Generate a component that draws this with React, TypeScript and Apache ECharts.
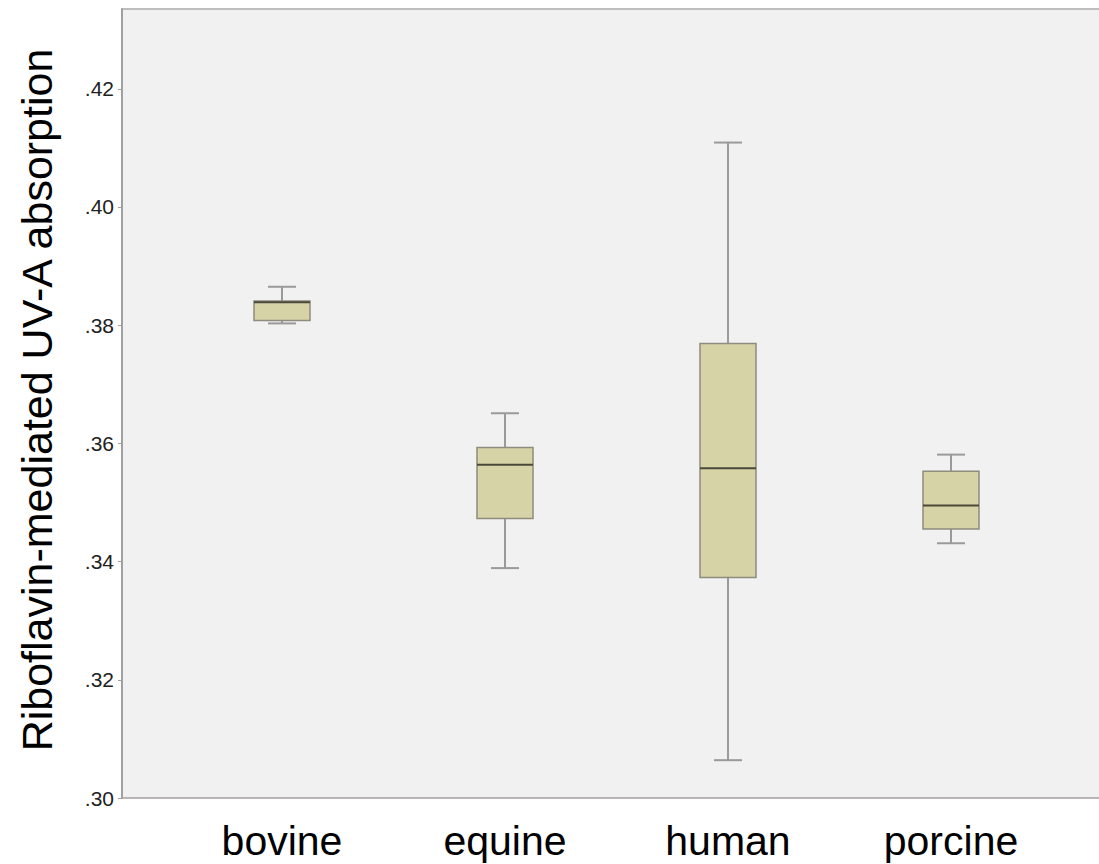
import React, { useEffect, useRef } from "react";
import * as echarts from "echarts";

const categories = ["bovine", "equine", "human", "porcine"];
const mins = [0.3803, 0.3389, 0.3064, 0.3431];
const q1s = [0.3808, 0.3473, 0.3373, 0.3455];
const medians = [0.3839, 0.3564, 0.3558, 0.3495];
const q3s = [0.3841, 0.3593, 0.3769, 0.3553];
const maxs = [0.3865, 0.3651, 0.4109, 0.3581];

const yTitle = "Riboflavin-mediated UV-A absorption";
const yMin = 0.3;
const yMax = 0.4335;
const yStep = 0.02;

export default function App() {
  const ref = useRef<HTMLDivElement>(null);
  useEffect(() => {
    if (!ref.current) return;
    const chart = echarts.init(ref.current, undefined, { renderer: "svg" });
    const data = categories.map((_, i) => [i, mins[i], q1s[i], medians[i], q3s[i], maxs[i]]);
    const gridTop = 9;
    const gridHeight = 789;
    chart.setOption({
      animation: false,
      backgroundColor: "#ffffff",
      grid: [
        {
          left: 122,
          top: gridTop,
          width: 977,
          height: gridHeight,
          show: true,
          backgroundColor: "#f1f1f1",
          borderWidth: 0,
        },
        {
          left: 170.5,
          top: gridTop,
          width: 892,
          height: gridHeight,
        },
      ],
      xAxis: [
        {
          gridIndex: 0,
          type: "value",
          min: 0,
          max: 1,
          axisLine: { show: true, lineStyle: { color: "#a89e9e", width: 1.5 } },
          axisTick: { show: false },
          axisLabel: { show: false },
          splitLine: { show: false },
        },
        {
          gridIndex: 0,
          type: "value",
          position: "top",
          min: 0,
          max: 1,
          axisLine: { show: true, lineStyle: { color: "#aaaaaa", width: 1.5 } },
          axisTick: { show: false },
          axisLabel: { show: false },
          splitLine: { show: false },
        },
        {
          gridIndex: 1,
          type: "category",
          data: categories,
          axisLine: { show: false },
          axisTick: { show: false },
          axisLabel: {
            margin: 22,
            fontSize: 41,
            color: "#000000",
            fontFamily: "Liberation Sans, Arial, sans-serif",
          },
          splitLine: { show: false },
        },
      ],
      yAxis: [
        {
          gridIndex: 0,
          type: "value",
          min: yMin,
          max: yMax,
          interval: yStep,
          axisLine: { show: true, lineStyle: { color: "#a0a0a0", width: 2 } },
          axisTick: { show: true, length: 4, lineStyle: { color: "#a0a0a0" } },
          axisLabel: {
            showMaxLabel: false,
            margin: 8,
            fontSize: 21,
            color: "#222222",
            fontFamily: "Liberation Sans, Arial, sans-serif",
            formatter: (v: number) => v.toFixed(2).replace(/^0/, ""),
          },
          splitLine: { show: false },
        },
        {
          gridIndex: 1,
          type: "value",
          min: yMin,
          max: yMax,
          interval: yStep,
          show: false,
          splitLine: { show: false },
        },
      ],
      graphic: [
        {
          type: "text",
          x: 37,
          y: 400,
          rotation: Math.PI / 2,
          style: {
            text: yTitle,
            fontSize: 43,
            fontFamily: "Liberation Sans, Arial, sans-serif",
            fill: "#000000",
            align: "center",
            verticalAlign: "middle",
          },
        },
      ],
      series: [
        {
          type: "custom",
          xAxisIndex: 2,
          yAxisIndex: 1,
          data,
          encode: { x: 0, y: [1, 2, 3, 4, 5] },
          renderItem: (params: any, api: any) => {
            const i = api.value(0);
            const pMin = api.coord([i, api.value(1)]);
            const pQ1 = api.coord([i, api.value(2)]);
            const pMed = api.coord([i, api.value(3)]);
            const pQ3 = api.coord([i, api.value(4)]);
            const pMax = api.coord([i, api.value(5)]);
            const cx = pQ1[0];
            const half = 28;
            const cap = 14;
            const whisker = { stroke: "#9a9a9a", lineWidth: 2 };
            return {
              type: "group",
              children: [
                { type: "line", shape: { x1: cx, y1: pMax[1], x2: cx, y2: pQ3[1] }, style: whisker },
                { type: "line", shape: { x1: cx, y1: pQ1[1], x2: cx, y2: pMin[1] }, style: whisker },
                { type: "line", shape: { x1: cx - cap, y1: pMax[1], x2: cx + cap, y2: pMax[1] }, style: whisker },
                { type: "line", shape: { x1: cx - cap, y1: pMin[1], x2: cx + cap, y2: pMin[1] }, style: whisker },
                {
                  type: "rect",
                  shape: { x: cx - half, y: pQ3[1], width: half * 2, height: pQ1[1] - pQ3[1] },
                  style: { fill: "#d6d3a7", stroke: "#8e8c7c", lineWidth: 1.5 },
                },
                {
                  type: "line",
                  shape: { x1: cx - half, y1: pMed[1], x2: cx + half, y2: pMed[1] },
                  style: { stroke: "#4a4838", lineWidth: 2 },
                },
              ],
            };
          },
        },
      ],
    });
    return () => chart.dispose();
  }, []);
  return (
    <div
      ref={ref}
      style={{ position: "fixed", left: 0, top: 0, width: 1099, height: 864 }}
    />
  );
}
